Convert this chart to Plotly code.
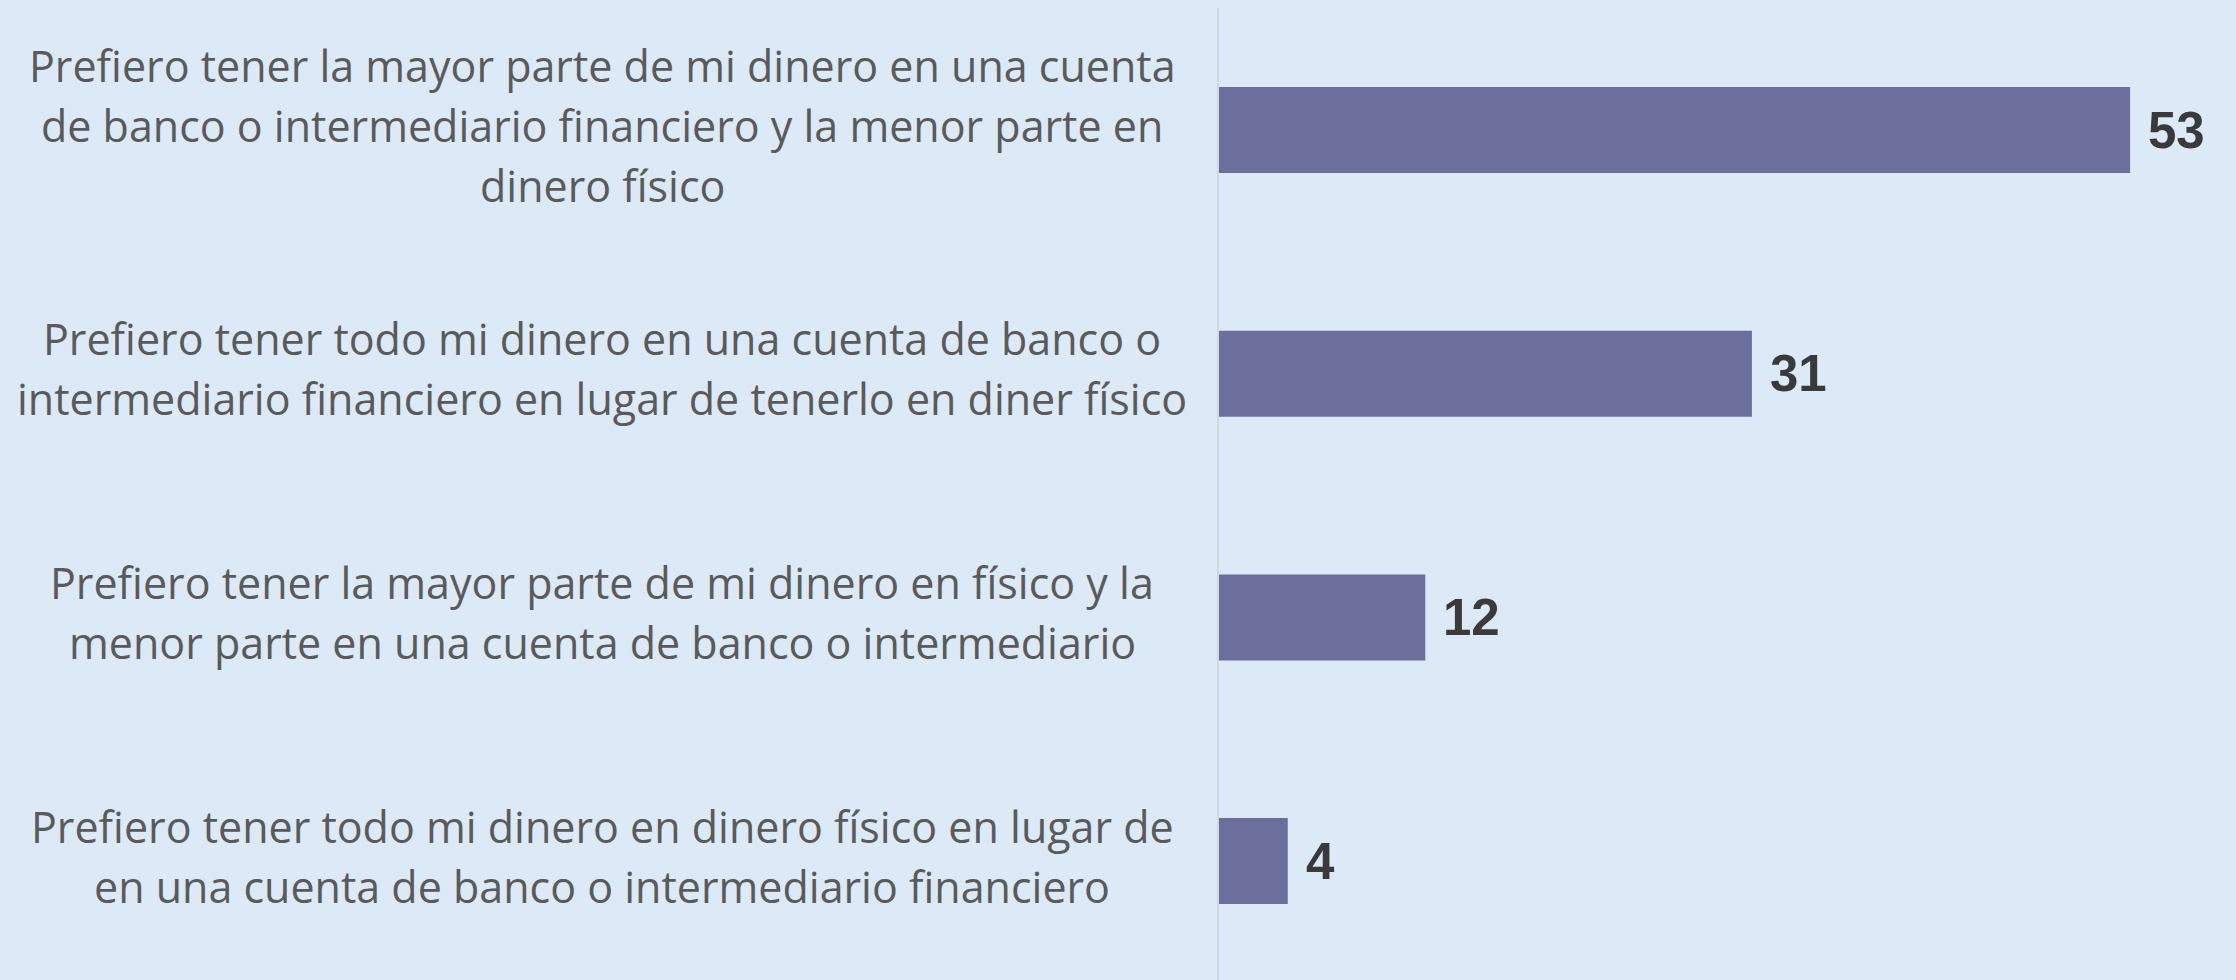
import plotly.graph_objects as go

categories = [
    "Prefiero tener la mayor parte de mi dinero en una cuenta<br>de banco o intermediario financiero y la menor parte en<br>dinero físico",
    "Prefiero tener todo mi dinero en una cuenta de banco o<br>intermediario financiero en lugar de tenerlo en diner físico",
    "Prefiero tener la mayor parte de mi dinero en físico y la<br>menor parte en una cuenta de banco o intermediario",
    "Prefiero tener todo mi dinero en dinero físico en lugar de<br>en una cuenta de banco o intermediario financiero",
]
values = [53, 31, 12, 4]
cat_ids = ["c1", "c2", "c3", "c4"]

BG = "#dce9f6"
BAR = "#6c6e9b"
LINE_H = 60

fig = go.Figure()
fig.add_trace(go.Bar(
    x=values, y=cat_ids, orientation="h",
    marker=dict(color=BAR, line=dict(width=0)),
    hoverinfo="skip",
))

annotations = []
for cid, label, v in zip(cat_ids, categories, values):
    lines = label.split("<br>")
    n = len(lines)
    for i, ln in enumerate(lines):
        off = (i - (n - 1) / 2) * LINE_H
        annotations.append(dict(
            x=0, y=cid, xref="x", yref="y", text=ln, showarrow=False,
            xanchor="center", yanchor="middle", xshift=-617, yshift=-off + 5,
            font=dict(family="Open Sans", size=43, color="#5a5a5a"),
        ))
    annotations.append(dict(
        x=v, y=cid, xref="x", yref="y", text=f"<b>{v}</b>", showarrow=False,
        xanchor="left", yanchor="middle", xshift=16, yshift=0,
        font=dict(family="Liberation Sans, Arial", size=51, color="#3a3a3a"),
    ))

fig.update_layout(
    width=2236, height=980,
    paper_bgcolor=BG, plot_bgcolor=BG,
    margin=dict(l=1219, r=0, t=8, b=0),
    bargap=0.647,
    showlegend=False,
    annotations=annotations,
    xaxis=dict(range=[0, 1017 / 17.19], showgrid=False, zeroline=False,
               showticklabels=False, showline=False, fixedrange=True),
    yaxis=dict(categoryorder="array", categoryarray=cat_ids[::-1],
               range=[-0.488, 3.501],
               showgrid=False, zeroline=False, showticklabels=False,
               showline=True, linecolor="#d4d8dc", linewidth=2, fixedrange=True),
)

fig.write_html(
    "out.html",
    config={"displayModeBar": False},
    post_script="document.body.style.margin='0';document.body.style.background='#dce9f6';",
)
